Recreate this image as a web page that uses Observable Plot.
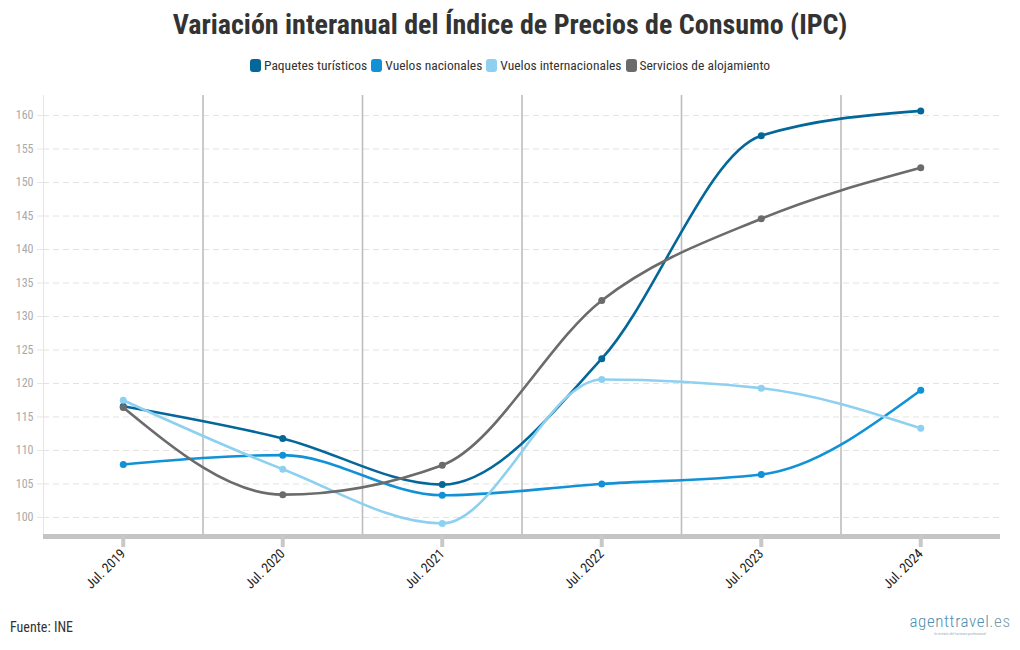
<!DOCTYPE html>
<html>
<head>
<meta charset="utf-8">
<script src="https://cdn.jsdelivr.net/npm/d3@7"></script>
<script src="https://cdn.jsdelivr.net/npm/@observablehq/plot@0.6"></script>
<style>
  body { margin: 0; background: #fff; font-family: "Roboto Condensed", "Liberation Sans Narrow", "DejaVu Sans Condensed", Roboto, sans-serif; }
  #wrap { position: relative; width: 1020px; height: 650px; overflow: hidden; }
  #title { position: absolute; top: 8px; left: 0; width: 1020px; text-align: center; font-size: 28px; font-weight: bold; color: #333; }
  #legend { position: absolute; top: 57px; left: 0; width: 1020px; display: flex; justify-content: center; gap: 4px; font-size: 13.5px; color: #333; }
  #legend .item { display: flex; align-items: center; gap: 3px; }
  #legend .sw { width: 11px; height: 13px; border-radius: 3px; display: inline-block; }
  #chart { position: absolute; top: 85px; left: 0; }
  #source { position: absolute; left: 10px; top: 619px; font-size: 14px; color: #333; }
  #logo { position: absolute; left: 908px; top: 613px; width: 104px; text-align: center; color: #4f8fae; line-height: 1; }
  #logo .big { font-size: 17px; letter-spacing: 0.6px; font-weight: 300; }
  #logo .big .es { color: #7a9aab; }
  #logo .small { font-size: 4px; color: #9ab; margin-top: 2px; }
</style>
</head>
<body>
<div id="wrap">
  <div id="title">Variación interanual del Índice de Precios de Consumo (IPC)</div>
  <div id="legend"></div>
  <div id="chart"></div>
  <div id="source">Fuente: INE</div>
  <div id="logo"><div class="big">agenttravel<span class="es">.es</span></div><div class="small">la revista del turismo profesional</div></div>
</div>
<script>
const categories = ["Jul. 2019", "Jul. 2020", "Jul. 2021", "Jul. 2022", "Jul. 2023", "Jul. 2024"];
const seriesNames = ["Paquetes turísticos", "Vuelos nacionales", "Vuelos internacionales", "Servicios de alojamiento"];
const seriesColors = ["#04679a", "#1192d6", "#8ed0f0", "#6b6b6b"];
const paquetes = [116.6, 111.8, 104.9, 123.7, 157.0, 160.7];
const vuelosNacionales = [107.9, 109.3, 103.3, 105.0, 106.4, 119.0];
const vuelosInternacionales = [117.5, 107.2, 99.1, 120.6, 119.3, 113.3];
const alojamiento = [116.4, 103.4, 107.8, 132.4, 144.6, 152.2];
const yTicks = [100, 105, 110, 115, 120, 125, 130, 135, 140, 145, 150, 155, 160];
const yDomain = [97.3, 163];

const allSeries = [paquetes, vuelosNacionales, vuelosInternacionales, alojamiento];
const data = [];
allSeries.forEach((vals, s) => vals.forEach((v, i) => data.push({serie: seriesNames[s], i, value: v})));
const idx = categories.map((c, i) => i);
const bounds = categories.slice(1).map((c, i) => i + 0.5);

const legend = document.getElementById("legend");
seriesNames.forEach((n, k) => {
  const it = document.createElement("span");
  it.className = "item";
  it.innerHTML = `<span class="sw" style="background:${seriesColors[k]}"></span><span>${n}</span>`;
  legend.appendChild(it);
});

const chart = Plot.plot({
  width: 1020,
  height: 525,
  marginTop: 10,
  marginBottom: 75,
  marginLeft: 43,
  marginRight: 20,
  style: {fontFamily: '"Roboto Condensed", "Liberation Sans Narrow", "DejaVu Sans Condensed", Roboto, sans-serif', fontSize: "12px", background: "#fff"},
  x: {domain: [-0.5, categories.length - 0.5]},
  y: {domain: yDomain},
  color: {domain: seriesNames, range: seriesColors},
  marks: [
    Plot.gridY(yTicks, {stroke: "#e2e2e2", strokeOpacity: 1, strokeDasharray: "6,4"}),
    Plot.axisY(yTicks, {tickSize: 6, stroke: "#e6e6e6", color: "#aaa", fill: "#aaa", tickPadding: 4, fontSize: 12, label: null}),
    Plot.ruleX([-0.5], {stroke: "#e6e6e6"}),
    Plot.ruleX(bounds, {stroke: "#bdbdbd", strokeWidth: 1.6}),
    Plot.line(data, {x: "i", y: "value", z: "serie", stroke: "serie", strokeWidth: 2.6, curve: "monotone-x"}),
    Plot.dot(data, {x: "i", y: "value", fill: "serie", r: 3.5}),
    Plot.ruleY([yDomain[0]], {stroke: "#c4c4c4", strokeWidth: 5, dy: 1}),
    Plot.axisX(idx, {tickFormat: i => categories[i], tickSize: 12, stroke: "#c8c8c8", strokeWidth: 4, tickRotate: -45, tickPadding: 4, fontSize: 13.5, fill: "#222", label: null})
  ]
});
document.getElementById("chart").appendChild(chart);
</script>
</body>
</html>
